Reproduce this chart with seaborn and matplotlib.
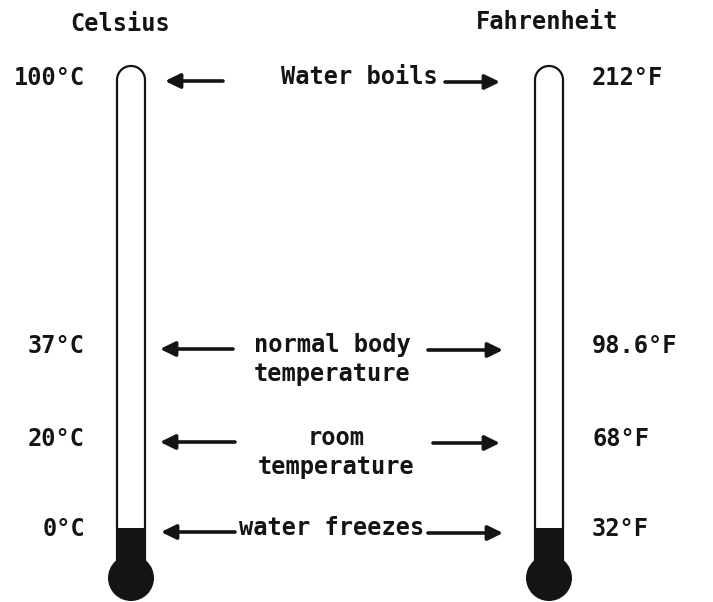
import numpy as np
import matplotlib
matplotlib.use("Agg")
import matplotlib.pyplot as plt
import matplotlib.patches as mpatches
import seaborn as sns

# data: fixed points on both scales
celsius = [100, 37, 20, 0]
fahrenheit = [212, 98.6, 68, 32]
events = ["Water boils", "normal body\ntemperature", "room\ntemperature", "water freezes"]
scale_names = ["Celsius", "Fahrenheit"]

# layout (pixel-like units, figure is 713x602)
row_y = [80, 348, 441, 531]
left_arrows = [(223, 165), (233, 160), (235, 160), (235, 161)]
right_arrows = [(445, 500), (428, 503), (433, 500), (428, 503)]
event_x = [359, 332, 336, 332]
tube_x = [131, 549]
tube_w = 28
tube_top = 66
bulb_y = 578
bulb_r = 23

sns.set_theme(style="white")
plt.rcParams['font.family'] = ['DejaVu Sans Mono', 'DejaVu Sans']
ink = "#141414"

fig = plt.figure(figsize=(7.13, 6.02), dpi=100)
ax = fig.add_axes([0, 0, 1, 1])
ax.set_xlim(0, 713)
ax.set_ylim(602, 0)
ax.axis("off")

txt = dict(fontsize=17, fontweight="bold", color=ink)

# thermometers
fill_top = row_y[-1] - 3
for cx in tube_x:
    r = tube_w / 2
    t = np.linspace(0, np.pi, 60)
    xs = np.concatenate([[cx - r], cx - r * np.cos(t), [cx + r]])
    ys = np.concatenate([[bulb_y - 15], tube_top + r - r * np.sin(t), [bulb_y - 15]])
    ax.plot(xs, ys, color=ink, lw=1.6)
    ax.add_patch(mpatches.Rectangle((cx - r, fill_top), tube_w, bulb_y - fill_top,
                                    color=ink, lw=0))
    ax.add_patch(mpatches.Circle((cx, bulb_y), bulb_r, color=ink, lw=0))

# scale names
ax.text(120, 24, scale_names[0], ha="center", va="center", **txt)
ax.text(547, 22, scale_names[1], ha="center", va="center", **txt)

# temperature labels, events and arrows
arrow = dict(arrowstyle="-|>,head_length=0.45,head_width=0.22", lw=2.6, color=ink,
             mutation_scale=20, shrinkA=0, shrinkB=0)
for i, y in enumerate(row_y):
    ax.text(85, y - 2, f"{celsius[i]:g}°C", ha="right", va="center", **txt)
    ax.text(592, y - 2, f"{fahrenheit[i]:g}°F", ha="left", va="center", **txt)
    for j, line in enumerate(events[i].split("\n")):
        ax.text(event_x[i], y - 3 + j * 29, line, ha="center", va="center", **txt)
    (a0, a1), (b0, b1) = left_arrows[i], right_arrows[i]
    ax.annotate("", xy=(a1, y + 1), xytext=(a0, y + 1), arrowprops=arrow)
    ax.annotate("", xy=(b1, y + 2), xytext=(b0, y + 2), arrowprops=arrow)

fig.savefig("out.png", dpi=100, facecolor="white")
